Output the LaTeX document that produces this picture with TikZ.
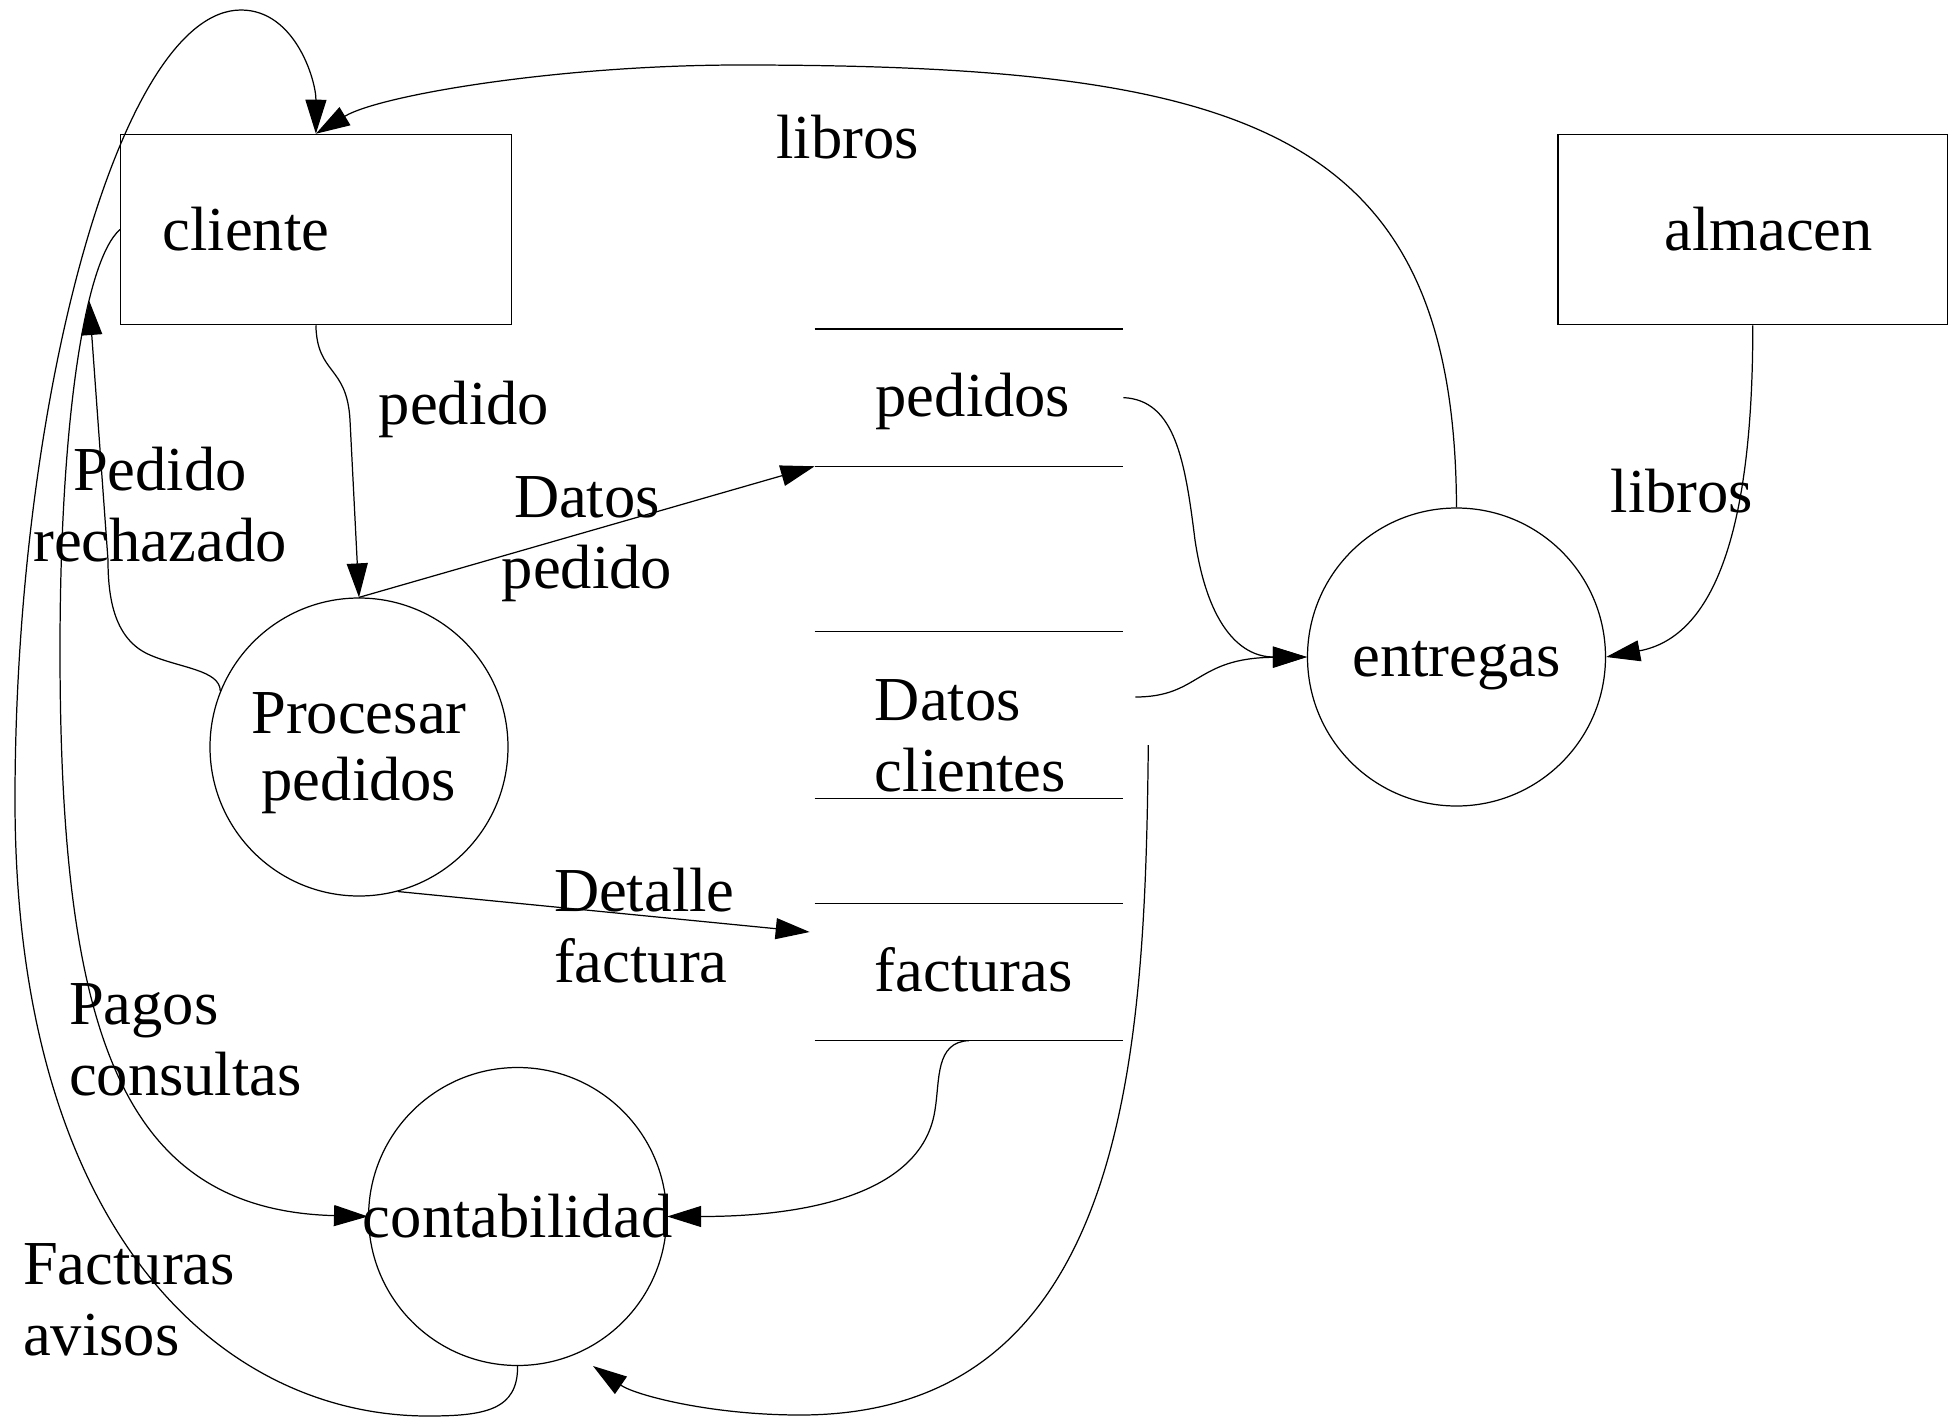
\documentclass[tikz,border=0pt]{standalone}
\usepackage{fontspec}
\setmainfont{Liberation Serif}
\usetikzlibrary{arrows.meta}

\begin{document}
\begin{tikzpicture}[font=\fontsize{17.8}{20.2}\selectfont, line width=0.35pt,
	dataflow/.style={-{Triangle[length=3.4mm,width=2.1mm]}}]
	\tikzstyle{every node}+=[inner sep=0pt]
	\tikzstyle{entity}=[draw, rectangle, minimum width=3.89cm, minimum height=1.903cm, inner xsep=0.42cm]
	\tikzstyle{process}=[draw, circle, minimum size=2.98cm, align=center]
	\tikzstyle{store}=[rectangle, minimum width=3.074cm]
	\useasboundingbox (0,0) rectangle (19.5,-14.17);
	% entities
	\node [entity, text width=3.065cm, align=left] (cliente) at (3.159,-2.295) {cliente};
	\node [entity, inner xsep=0.748cm, text width=2.4cm, align=right] (almacen) at (17.528,-2.295) {almacen};
	% processes
	\node [process] (procesar) at (3.59,-7.47) {\raisebox{-0.6mm}[\height][\depth]{\shortstack{Procesar\\[1.2mm]pedidos}}};
	\node [process] (contab) at (5.176,-12.165) {\makebox[0pt]{contabilidad}};
	\node [process] (entregas) at (14.565,-6.57) {\raisebox{-0.9mm}[\height][\depth]{entregas}};
	% data stores
	\node [store, minimum height=1.361cm] (pedidos) at (9.69,-3.976) {};
	\node [store, minimum height=1.66cm] (dclientes) at (9.69,-7.15) {};
	\node [store, minimum height=1.36cm] (facturas) at (9.69,-9.72) {};
	\foreach \s in {pedidos,dclientes,facturas}
		\draw (\s.north west) -- (\s.north east) (\s.south west) -- (\s.south east);
	\node [anchor=base] (tpedidos) at (9.73,-4.166) {pedidos};
	\node [anchor=base west, align=left] (tdclientes) at (8.743,-7.91) {Datos\\clientes};
	\node [anchor=base] (tfacturas) at (9.737,-9.91) {facturas};
	% flow labels (base = last line)
	\node [anchor=base] (lpedido) at (4.64,-4.24) {pedido};
	\node [anchor=base, align=center] (lrechazado) at (1.60,-5.61) {Pedido\\rechazado};
	\node [anchor=base, align=center] (ldatosped) at (5.87,-5.885) {Datos\\pedido};
	\node [anchor=base] (llibros) at (8.475,-1.58) {libros};
	\node [anchor=base] (llibrosalm) at (16.82,-5.12) {libros};
	\node [anchor=base west, align=left] (ldetalle) at (5.534,-9.82) {Detalle\\factura};
	\node [anchor=base west, align=left] (lpagos) at (0.684,-10.95) {Pagos\\consultas};
	\node [anchor=base west, align=left] (lfacturas) at (0.224,-13.55) {Facturas\\avisos};
	\coordinate (rejtip) at (0.893,-3.01);
	\coordinate (ctip) at (5.93,-13.66);
	% flows
	\draw [dataflow] (cliente.south) .. controls (3.17,-3.75) and (3.47,-3.65) .. (3.5,-4.2) -- (procesar.north);
	\draw [dataflow] (procesar.north) -- (pedidos.south west);
	\draw [dataflow] (procesar.-75) -- ([shift={(-0.05,0.4)}]facturas.west);
	\draw [dataflow] (procesar.158) .. controls (2.2,-6.7) and (1.8,-6.68) .. (1.5,-6.55)
		.. controls (1.15,-6.4) and (1.08,-6.0) .. (1.08,-5.6) -- (rejtip);
	\draw [dataflow] (cliente.west) .. controls (0.85,-2.6) and (0.6,-4.2) .. (0.6,-6.5)
		.. controls (0.6,-10.3) and (1.2,-12.1) .. (contab.west);
	\draw [dataflow] (contab.south) .. controls (5.18,-14.1) and (4.85,-14.16) .. (4.28,-14.16)
		.. controls (2.2,-14.16) and (0.15,-12.3) .. (0.15,-8.0)
		.. controls (0.15,-4.0) and (1.2,-0.1) .. (2.41,-0.1)
		.. controls (2.95,-0.1) and (3.16,-0.8) .. (cliente.north);
	\draw [dataflow] (entregas.north) .. controls (14.55,-1.3) and (12.5,-0.65) .. (7.4,-0.65)
		.. controls (5.6,-0.65) and (3.8,-0.95) .. (cliente.north);
	\draw [dataflow] (pedidos.east) .. controls (11.75,-4.0) and (11.85,-4.6) .. (11.95,-5.4)
		.. controls (12.1,-6.4) and (12.5,-6.57) .. (entregas.west);
	\draw [dataflow] ([shift={(0.12,0.18)}]dclientes.east) .. controls (12.0,-6.97) and (11.95,-6.58) .. (entregas.west);
	\draw [dataflow] (almacen.south) .. controls (17.53,-5.0) and (17.25,-6.35) .. (entregas.east);
	\draw [dataflow] (facturas.south) .. controls (9.35,-10.42) and (9.4,-10.8) .. (9.35,-11.1)
		.. controls (9.2,-12.1) and (7.6,-12.165) .. (contab.east);
	\draw [dataflow] ([shift={(0.25,-0.3)}]dclientes.east) .. controls (11.45,-10.5) and (11.3,-14.15) .. (8.0,-14.15)
		.. controls (7.1,-14.15) and (6.35,-13.95) .. (ctip);
\end{tikzpicture}
\end{document}
